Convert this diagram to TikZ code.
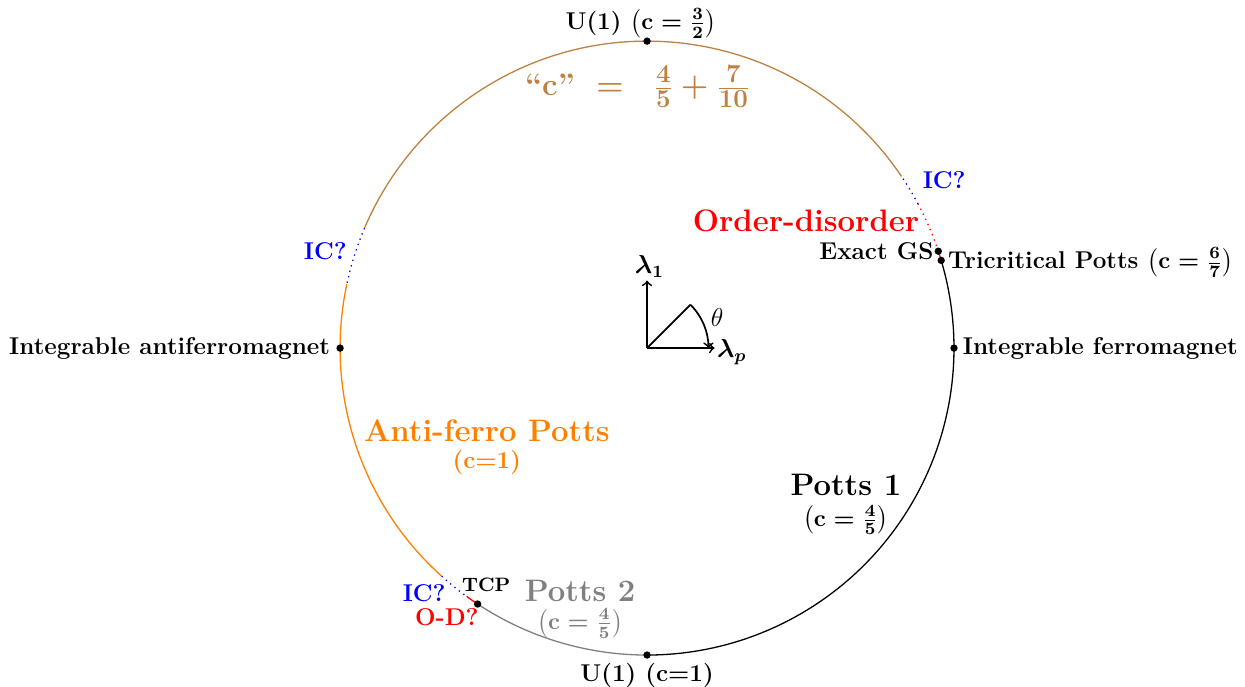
\documentclass[tikz,border=0pt]{standalone}
\usepackage{amsmath}
\newcommand\fnum[1]{\mbox{\large\bfseries #1}}
\begin{document}
\begin{tikzpicture}[
  dot/.style={circle,fill=black,inner sep=0pt,minimum size=0.12cm},
  lbl/.style={font=\fontsize{11.25}{13}\selectfont\bfseries\boldmath, inner sep=0.5pt},
  big/.style={font=\Large\bfseries\boldmath, inner sep=0.5pt},
  arcline/.style={line width=0.6pt}
]
\useasboundingbox (-10.54,-5.52) rectangle (9.74,5.67);
\def\R{5}
% circle arcs
\draw[arcline,brown] (34:\R) arc (34:157:\R);
\draw[arcline,blue,dotted] (28:\R) arc (28:34:\R);
\draw[arcline,red,dotted] (18.4:\R) arc (18.4:28:\R);
\draw[arcline,red] (16.6:\R) arc (16.6:18.4:\R);
\draw[arcline,black] (-90:\R) arc (-90:16.6:\R);
\draw[arcline,blue,dotted] (157:\R) arc (157:168:\R);
\draw[arcline,orange] (168:\R) arc (168:228:\R);
\draw[arcline,blue,dotted] (228:\R) arc (228:234:\R);
\draw[arcline,red] (234:\R) arc (234:236.5:\R);
\draw[arcline,gray] (236.5:\R) arc (236.5:270:\R);
% dots
\node[dot] (top) at (90:\R) {};
\node[dot] (bot) at (270:\R) {};
\node[dot] (fm) at (0:\R) {};
\node[dot] (afm) at (180:\R) {};
\node[dot] (gs) at (18.4:\R) {};
\node[dot] (tcp) at (16.6:\R) {};
\node[dot] (tcp2) at (236.5:\R) {};
% axes
\coordinate (o) at (0,0);
\coordinate (ya) at (0,1.1);
\coordinate (xa) at (1.1,0);
\coordinate (d) at (45:1);
\draw[thick,->] (o) -- (ya);
\draw[thick,->] (o) -- (xa);
\draw[thick] (o) -- (d);
\draw[thick,->] (d) arc (45:0:1);
\node[lbl,font=\large\boldmath] (l1) at (0.04,1.33) {$\lambda_1$};
\node[lbl,font=\large\boldmath] (lp) at (1.38,-0.07) {$\lambda_p$};
\node[font=\large] (th) at (1.14,0.49) {$\theta$};
% labels
\node[lbl,anchor=base,inner sep=0pt] (ltop) at (-0.1,5.19) {U(1) $\left(\mathbf{c=\frac32}\right)$};
\node[text=brown,font=\Large\bfseries\boldmath,inner sep=0.5pt] (cc) at (-0.15,4.26) {``c'' $\;=\;\;\frac{\fnum{4}}{\fnum{5}}+\frac{\fnum{7}}{\fnum{10}}$};
\node[lbl,text=blue] (ic1) at (4.84,2.74) {IC?};
\node[big,text=red] (od) at (2.59,2.08) {Order-disorder};
\node[lbl,anchor=east] (egs) at (4.69,1.58) {Exact GS};
\node[lbl,anchor=west] (tri) at (4.88,1.39) {Tricritical Potts $\left(\mathbf{c=\frac67}\right)$};
\node[lbl,anchor=west] (ifm) at (5.12,0) {Integrable ferromagnet};
\node[lbl,anchor=east] (iafm) at (-5.14,0) {Integrable antiferromagnet};
\node[lbl,text=blue] (ic2) at (-5.24,1.58) {IC?};
\node[big,text=orange] (afp) at (-2.61,-1.34) {Anti-ferro Potts};
\node[lbl,text=orange] (afc) at (-2.61,-1.86) {(c=1)};
\node[big] (p1) at (3.24,-2.23) {Potts 1};
\node[lbl] (p1c) at (3.24,-2.8) {$\left(\mathbf{c=\frac45}\right)$};
\node[big,text=gray] (p2) at (-1.09,-3.96) {Potts 2};
\node[lbl,text=gray] (p2c) at (-1.09,-4.48) {$\left(\mathbf{c=\frac45}\right)$};
\node[lbl,font=\small\bfseries] (ltcp) at (-2.62,-3.86) {TCP};
\node[lbl,text=blue] (ic3) at (-3.63,-3.99) {IC?};
\node[lbl,text=red] (od2) at (-3.26,-4.38) {O-D?};
\node[lbl] (lbot) at (0,-5.33) {U(1) (c=1)};
\end{tikzpicture}
\end{document}
